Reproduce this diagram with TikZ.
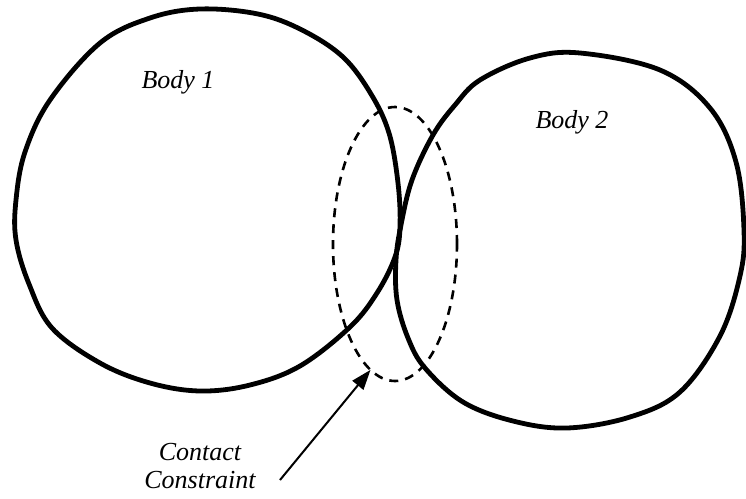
\documentclass[tikz,border=0pt]{standalone}
\usepackage{fontspec}
\setmainfont{Liberation Serif}
\usetikzlibrary{arrows.meta,shapes.geometric}

\tikzset{
  body/.style={line width=2.4pt, line join=round},
  label/.style={font=\fontsize{13}{15}\selectfont\itshape, anchor=base, inner sep=0pt},
  contactzone/.style={ellipse, draw, line width=1.3pt, dash pattern=on 4.5pt off 3.5pt,
                      inner sep=0pt, outer sep=0pt, minimum width=62pt, minimum height=137pt},
  pointer/.style={line width=1pt, -{Triangle[length=10pt,width=7pt]}}
}

\begin{document}
\begin{tikzpicture}[x=0.5pt, y=-0.5pt]
  \useasboundingbox (0,0) rectangle (746,499);

  % first body
  \draw[body] plot[smooth cycle, tension=0.6] coordinates {
    (200,9) (258,14) (302,30) (343,57) (371,94) (389,133) (398,183) (400,227)
    (395,257) (377,293) (350,327) (300,366) (250,385) (200,391) (150,383)
    (100,363) (52,328) (29,284) (16,240) (16,200) (25,152) (50,100)
    (100,43) (150,18)};

  % second body
  \draw[body] plot[smooth cycle, tension=0.6] coordinates {
    (580,53) (530,58) (480,80) (455,105) (433,135) (412,180) (401,225)
    (396,260) (397,300) (408,338) (425,368) (463,402) (513,421) (567,428)
    (630,417) (680,392) (720,336) (740,276) (744,230) (736,162) (710,108)
    (660,70)};

  % contact region
  \node[contactzone] (contact) at (395,244) {};

  % labels
  \node[label] (b1) at (178,88) {Body 1};
  \node[label] (b2) at (572,128) {Body 2};
  \node[label] (c1) at (200,460) {Contact};
  \node[label] (c2) at (200,488) {Constraint};

  % pointer to the contact region
  \coordinate (tail) at (280,480);
  \draw[pointer] (tail) -- (contact.-101);
\end{tikzpicture}
\end{document}
